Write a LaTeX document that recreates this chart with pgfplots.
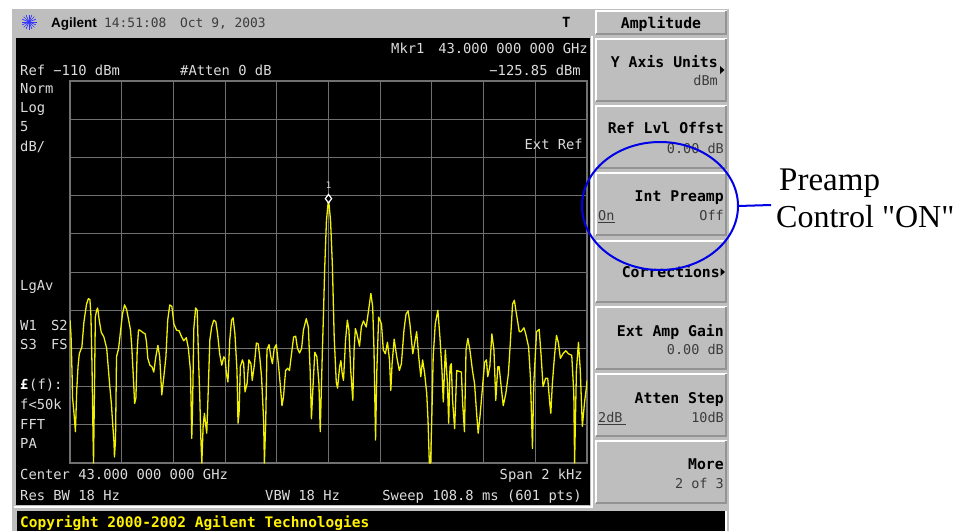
\documentclass[border=0pt]{standalone}
\usepackage{fontspec}
\usepackage{pgfplots}
\pgfplotsset{compat=1.18}
\newfontfamily\scr{DejaVu Sans Mono}
\newfontfamily\ag{Liberation Sans}
\newfontfamily\capfont{Liberation Serif}
\definecolor{panel}{HTML}{BEBEBE}
\definecolor{screentext}{HTML}{DCDCDC}
\definecolor{gridc}{HTML}{707070}
\definecolor{trace}{HTML}{F0F000}
\definecolor{keysub}{HTML}{3C3C3C}
\definecolor{ringblue}{HTML}{0000E6}
\newcommand{\stxt}[3]{\node[anchor=base west,inner sep=0pt,text=screentext,font=\scr\fontsize{13.8}{14}\selectfont] at (#1,#2) {#3};}
\newcommand{\stxr}[3]{\node[anchor=base east,inner sep=0pt,text=screentext,font=\scr\fontsize{13.8}{14}\selectfont] at (#1,#2) {#3};}
\newcommand{\keyb}[3]{\node[anchor=base east,inner sep=0pt,text=black,font=\scr\bfseries\fontsize{14.8}{15}\selectfont] at (#1,#2) {#3};}
\newcommand{\keyr}[3]{\node[anchor=base east,inner sep=0pt,text=keysub,font=\scr\fontsize{13.5}{14}\selectfont] at (#1,#2) {#3};}
\newcommand{\keyl}[3]{\node[anchor=base west,inner sep=0pt,text=keysub,font=\scr\fontsize{13.5}{14}\selectfont] at (#1,#2) {#3};}
\newcommand{\softkey}[2]{%
  \fill[panel] (595,#1) rectangle (727,#2);
  \draw[white,line width=1.6pt] (595.8,#2-1) -- (595.8,#1+.8) -- (727,#1+.8);
  \draw[gray!85,line width=1.8pt] (726.2,#1+1) -- (726.2,#2-.9) -- (596,#2-.9);
}
\begin{document}
\begin{tikzpicture}[x=1pt,y=-1pt]
\useasboundingbox (0,0) rectangle (963,531);
\fill[white] (0,0) rectangle (963,531);
\fill[panel] (12,9) rectangle (729,531);
\fill[black] (16,38) rectangle (590,505);
\draw[white,line width=2pt] (14,507) -- (592,507) -- (592,36);
\fill[black] (17,511) rectangle (725,531);
\draw[white,line width=1.2pt] (726,511) -- (726,531);
% header
\foreach \a in {0,22.5,...,337.5} \draw[blue!80!white,line width=.7pt] (29,22) -- ++(\a:7.5);
\node[anchor=base west,inner sep=0pt,font=\ag\bfseries\fontsize{13.5}{14}\selectfont] at (51,27) {Agilent};
\node[anchor=base west,inner sep=0pt,text=keysub,font=\scr\fontsize{12.9}{13}\selectfont] at (104,27) {14:51:08};
\node[anchor=base west,inner sep=0pt,text=keysub,font=\scr\fontsize{12.9}{13}\selectfont] at (180,27) {Oct 9, 2003};
\node[anchor=base west,inner sep=0pt,font=\scr\bfseries\fontsize{14}{14}\selectfont] at (562,27) {T};
% softkeys
\softkey{10}{35}\softkey{38}{102}\softkey{105}{169}\softkey{172}{236}\softkey{240}{303}\softkey{306}{370}\softkey{373}{437}\softkey{440}{504}
\node[anchor=base,inner sep=0pt,text=black,font=\scr\bfseries\fontsize{14.8}{15}\selectfont] at (661,28) {Amplitude};
\keyb{718}{67}{Y Axis Units}
\keyr{718}{85}{dBm}
\fill[black] (720,66) -- (724.5,70) -- (720,74) -- cycle;
\keyb{724}{133}{Ref Lvl Offst}
\keyr{724}{153}{0.00 dB}
\keyb{724}{201}{Int Preamp}
\keyl{598}{220}{On}
\draw[keysub,line width=.8pt] (598,222.5) -- (614.5,222.5);
\keyr{724}{220}{Off}
\keyb{720}{277}{Corrections}
\fill[black] (720.5,268) -- (725,272) -- (720.5,276) -- cycle;
\keyb{724}{336}{Ext Amp Gain}
\keyr{724}{354}{0.00 dB}
\keyb{724}{403}{Atten Step}
\keyl{598}{422}{2dB}
\draw[keysub,line width=.8pt] (598,424.5) -- (626,424.5);
\keyr{724}{422}{10dB}
\keyb{724}{469}{More}
\keyr{724}{488}{2 of 3}
\begin{axis}[
  at={(70pt,-463pt)},anchor=south west,
  scale only axis,width=517pt,height=382pt,
  xmin=-1000,xmax=1000,ymin=-160,ymax=-110,
  xtick distance=200,ytick distance=5,
  xticklabel=\empty,yticklabel=\empty,
  major tick length=0pt,
  grid=major,
  grid style={gridc,line width=1pt},
  axis line style={gridc,line width=1.5pt},
  axis on top=false,
]
\addplot[trace,line width=1.3pt,no marks,line join=round] table[row sep=\\] {
x y\\
-1000 -141.3\\ -996 -143.3\\ -992 -148.3\\ -990 -151.5\\ -985 -153.3\\ -979 -155.9\\ -974 -150.5\\ -969 -147.4\\ -964 -145.7\\ -954 -144.8\\
-946 -141.5\\ -936 -139.2\\ -929 -138.5\\ -923 -138.6\\ -919 -140.7\\ -915 -147.0\\ -911 -156.1\\ -909 -160\\ -906 -152.2\\ -902 -140.9\\
-897 -140.0\\ -893 -139.7\\ -887 -141.3\\ -879 -142.9\\ -869 -143.5\\ -858 -145.0\\ -851 -147.9\\ -846 -150.0\\ -840 -152.2\\ -835 -154.8\\
-830 -157.2\\ -828 -159.2\\ -824 -157.0\\ -820 -146.1\\ -812 -145.0\\ -804 -142.6\\ -797 -140.5\\ -789 -139.3\\ -781 -139.9\\ -773 -141.3\\
-766 -142.6\\ -761 -144.8\\ -755 -148.7\\ -750 -152.2\\ -745 -151.5\\ -740 -145.2\\ -735 -142.6\\ -730 -142.6\\ -719 -142.9\\ -709 -143.1\\
-704 -144.2\\ -699 -146.3\\ -691 -147.2\\ -683 -147.4\\ -676 -148.1\\ -668 -146.1\\ -660 -144.6\\ -653 -146.1\\ -647 -149.8\\ -645 -151.1\\
-637 -148.7\\ -629 -146.1\\ -622 -141.3\\ -614 -139.3\\ -606 -139.5\\ -598 -141.8\\ -588 -142.6\\ -578 -142.7\\ -568 -143.5\\ -560 -144.0\\
-550 -143.6\\ -542 -145.0\\ -534 -147.9\\ -529 -156.8\\ -526 -152.9\\ -521 -142.4\\ -514 -139.7\\ -508 -140.0\\ -503 -146.1\\ -498 -151.3\\
-494 -156.6\\ -490 -160\\ -485 -155.2\\ -480 -153.5\\ -475 -155.0\\ -471 -156.1\\ -466 -151.3\\ -459 -143.9\\ -452 -142.2\\ -444 -141.3\\
-436 -141.5\\ -429 -143.1\\ -421 -145.7\\ -413 -147.2\\ -405 -146.1\\ -400 -146.3\\ -395 -148.3\\ -389 -149.4\\ -382 -143.9\\ -375 -141.3\\
-369 -141.0\\ -362 -143.1\\ -354 -147.9\\ -350 -154.8\\ -346 -153.5\\ -341 -147.4\\ -333 -146.5\\ -328 -147.0\\ -323 -150.7\\ -315 -149.6\\
-308 -146.5\\ -300 -147.0\\ -295 -149.2\\ -287 -147.2\\ -279 -144.3\\ -272 -144.4\\ -266 -146.1\\ -259 -148.7\\ -251 -154.4\\ -248 -160\\
-243 -154.8\\ -238 -145.2\\ -230 -144.5\\ -223 -146.1\\ -217 -147.0\\ -210 -145.0\\ -202 -144.5\\ -194 -147.0\\ -187 -149.6\\ -180 -152.5\\
-174 -151.3\\ -166 -147.9\\ -158 -147.6\\ -151 -147.9\\ -143 -145.7\\ -135 -143.5\\ -127 -143.4\\ -120 -145.0\\ -112 -145.6\\ -104 -145.0\\
-97 -142.6\\ -86 -141.1\\ -78 -142.2\\ -71 -147.9\\ -66 -154.2\\ -60 -150.0\\ -53 -145.5\\ -45 -146.1\\ -37 -149.6\\ -32 -155.9\\
-24 -145.7\\ -19 -140.0\\ -15 -134.8\\ -8 -128.3\\ 0 -125.4\\ 8 -128.3\\ 15 -134.1\\ 22 -143.5\\ 30 -149.4\\ 35 -150.2\\
43 -147.4\\ 48 -146.6\\ 53 -148.3\\ 58 -149.2\\ 66 -143.9\\ 73 -141.3\\ 79 -142.6\\ 86 -147.9\\ 94 -151.8\\ 99 -145.2\\
104 -142.4\\ 110 -143.1\\ 120 -144.7\\ 127 -142.2\\ 135 -141.4\\ 146 -142.2\\ 153 -140.5\\ 164 -137.8\\ 171 -139.6\\ 176 -145.2\\
182 -157.0\\ 187 -147.9\\ 194 -140.9\\ 205 -141.8\\ 212 -145.2\\ 220 -145.7\\ 228 -144.2\\ 236 -146.5\\ 241 -150.5\\ 246 -147.0\\
254 -143.8\\ 264 -146.1\\ 274 -147.9\\ 282 -147.0\\ 292 -142.6\\ 300 -140.5\\ 308 -140.1\\ 315 -141.8\\ 326 -145.7\\ 333 -144.4\\
341 -142.8\\ 349 -146.1\\ 357 -148.7\\ 364 -146.5\\ 372 -148.3\\ 380 -150.9\\ 385 -154.4\\ 390 -160\\ 395 -160\\ 400 -153.5\\
405 -146.1\\ 413 -141.8\\ 423 -140.0\\ 431 -143.5\\ 439 -147.9\\ 444 -152.0\\ 452 -145.2\\ 460 -149.6\\ 465 -154.8\\ 470 -147.4\\
475 -147.0\\ 480 -151.8\\ 488 -155.5\\ 496 -147.9\\ 514 -148.1\\ 519 -152.2\\ 526 -155.9\\ 532 -145.2\\ 539 -143.7\\ 547 -145.2\\
557 -147.9\\ 565 -149.6\\ 573 -153.5\\ 579 -156.1\\ 586 -153.9\\ 596 -150.0\\ 604 -146.8\\ 611 -146.5\\ 616 -148.7\\ 624 -147.4\\
632 -143.1\\ 640 -145.2\\ 647 -151.8\\ 655 -147.4\\ 660 -147.4\\ 668 -150.0\\ 676 -152.5\\ 686 -150.9\\ 696 -148.3\\ 704 -143.9\\
712 -139.2\\ 719 -138.7\\ 727 -140.5\\ 738 -142.8\\ 745 -142.8\\ 756 -142.3\\ 763 -143.1\\ 774 -144.8\\ 781 -148.7\\ 789 -158.1\\
794 -149.6\\ 805 -142.8\\ 815 -142.5\\ 822 -145.7\\ 830 -150.0\\ 840 -148.9\\ 848 -148.9\\ 856 -152.2\\ 860 -153.5\\ 866 -149.6\\
874 -146.1\\ 882 -143.3\\ 889 -144.2\\ 897 -146.3\\ 907 -145.7\\ 918 -145.3\\ 928 -145.7\\ 941 -145.9\\ 949 -150.9\\ 952 -160\\
959 -147.9\\ 967 -144.2\\ 974 -147.9\\ 982 -155.2\\ 990 -152.2\\ 998 -150.0\\ 1000 -149.2\\
};
\addplot[only marks,mark=diamond*,mark size=4.2pt,mark options={fill=black,draw=white,line width=1.2pt}] coordinates {(0,-125.4)};
\end{axis}
% screen annotations
\node[anchor=base,inner sep=0pt,text=screentext,font=\scr\fontsize{9}{9}\selectfont] at (328.5,188) {1};
\stxt{391}{53}{Mkr1}
\stxr{588}{53}{43.000 000 000 GHz}
\stxr{581}{75}{−125.85 dBm}
\stxt{20}{75}{Ref −110 dBm}
\stxt{180}{75}{\#Atten 0 dB}
\stxt{20}{93}{Norm}
\stxt{20}{112}{Log}
\stxt{20}{131}{5}
\stxt{20}{151}{dB/}
\stxr{583}{149}{Ext Ref}
\stxt{20}{290}{LgAv}
\stxt{20}{330}{W1}
\stxr{68}{330}{S2}
\stxt{20}{349}{S3}
\stxr{68}{349}{FS}
\node[anchor=base west,inner sep=0pt,text=white,font=\scr\bfseries\fontsize{13.8}{14}\selectfont] at (20,389) {£};
\stxt{29}{389}{(f):}
\stxt{20}{409}{f<50k}
\stxt{20}{429}{FFT}
\stxt{20}{448}{PA}
\stxt{20}{479}{Center 43.000 000 000 GHz}
\stxr{583}{479}{Span 2 kHz}
\stxt{20}{500}{Res BW 18 Hz}
\stxt{265}{500}{VBW 18 Hz}
\stxr{582}{500}{Sweep 108.8 ms (601 pts)}
\node[anchor=base west,inner sep=0pt,text=yellow,font=\scr\bfseries\fontsize{14.5}{15}\selectfont] at (20,527) {Copyright 2000-2002 Agilent Technologies};
% callout
\draw[ringblue,line width=2pt] (660,206) ellipse [x radius=78,y radius=64];
\draw[ringblue,line width=2pt] (738,206) -- (771,205);
\node[anchor=base west,inner sep=0pt,font=\capfont\fontsize{33}{35}\selectfont] at (779,190) {Preamp};
\node[anchor=base west,inner sep=0pt,font=\capfont\fontsize{32}{35}\selectfont] at (776,227) {Control "ON"};
\end{tikzpicture}
\end{document}
